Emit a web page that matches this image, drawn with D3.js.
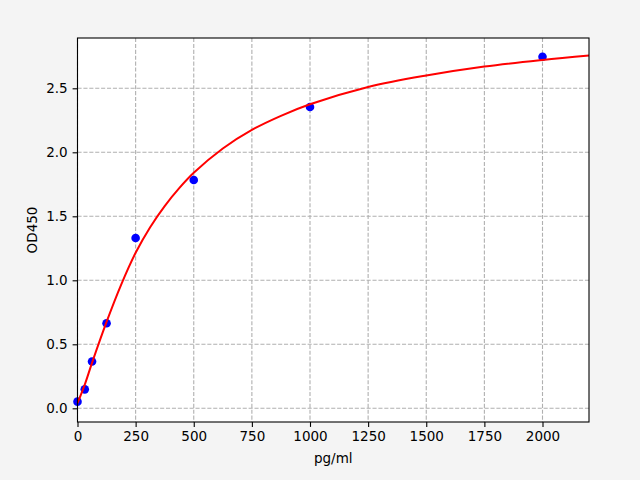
<!DOCTYPE html>
<html>
<head>
<meta charset="utf-8">
<script src="https://cdn.jsdelivr.net/npm/d3@7"></script>
<style>
  body { margin: 0; background: #f4f4f4; }
  svg { display: block; font-family: "DejaVu Sans", sans-serif; }
</style>
</head>
<body>
<svg id="chart" width="640" height="480"></svg>
<script>
// standard points (concentration, OD)
const concentrations = [0, 31.25, 62.5, 125, 250, 500, 1000, 2000]
const odValues = [0.052, 0.148, 0.366, 0.664, 1.33, 1.784, 2.354, 2.747]

// fitted curve
const curveX = [0, 31.25, 62.5, 125, 187.5, 250, 312.5, 375, 437.5, 500, 625, 750, 875, 1000, 1250, 1500, 1750, 2000, 2200]
const curveY = [0.04, 0.185, 0.355, 0.675, 0.965, 1.215, 1.415, 1.58, 1.72, 1.84, 2.03, 2.175, 2.285, 2.375, 2.51, 2.6, 2.67, 2.722, 2.757]

const xTicks = [0, 250, 500, 750, 1000, 1250, 1500, 1750, 2000]
const yTicks = [0, 0.5, 1.0, 1.5, 2.0, 2.5]

const margin = { top: 38, right: 51, bottom: 58, left: 77.5 }
const width = 640 - margin.left - margin.right
const height = 480 - margin.top - margin.bottom

const svg = d3.select('#chart')
const g = svg.append('g').attr('transform', `translate(${margin.left},${margin.top})`)

const x = d3.scaleLinear().domain([0, 2200]).range([0, width])
const y = d3.scaleLinear().domain([-0.107, 2.893]).range([height, 0])

g.append('rect').attr('width', width).attr('height', height).attr('fill', '#fff')

// grid
g.selectAll('.vgrid')
    .data(xTicks)
    .enter()
    .append('line')
    .attr('x1', d => x(d))
    .attr('x2', d => x(d))
    .attr('y1', 0)
    .attr('y2', height)
    .attr('stroke', '#b0b0b0')
    .attr('stroke-width', 1.1)
    .attr('stroke-dasharray', '4.1,1.8')
g.selectAll('.hgrid')
    .data(yTicks)
    .enter()
    .append('line')
    .attr('x1', 0)
    .attr('x2', width)
    .attr('y1', d => y(d))
    .attr('y2', d => y(d))
    .attr('stroke', '#b0b0b0')
    .attr('stroke-width', 1.1)
    .attr('stroke-dasharray', '4.1,1.8')

// points
g.selectAll('circle')
    .data(concentrations)
    .enter()
    .append('circle')
    .attr('cx', d => x(d))
    .attr('cy', (d, i) => y(odValues[i]))
    .attr('r', 4.3)
    .attr('fill', '#0000ff')

// fit line
const line = d3
    .line()
    .x(d => x(d))
    .y((d, i) => y(curveY[i]))
    .curve(d3.curveCatmullRom)
g.append('path')
    .datum(curveX)
    .attr('d', line)
    .attr('fill', 'none')
    .attr('stroke', '#ff0000')
    .attr('stroke-width', 2)

// axes
const xAxis = g
    .append('g')
    .attr('transform', `translate(0,${height})`)
    .call(d3.axisBottom(x).tickValues(xTicks).tickFormat(d3.format('d')).tickSizeOuter(0).tickSize(4.9).tickPadding(4.9))
const yAxis = g
    .append('g')
    .call(d3.axisLeft(y).tickValues(yTicks).tickFormat(d3.format('.1f')).tickSizeOuter(0).tickSize(4.9).tickPadding(4.9))
;[xAxis, yAxis].forEach(a => {
    a.select('.domain').remove()
    a.selectAll('line').attr('stroke', '#000').attr('stroke-width', 1.1)
    a.selectAll('text').attr('font-size', 13.5).attr('fill', '#000').attr('font-family', 'DejaVu Sans')
})

// frame
g.append('rect')
    .attr('width', width)
    .attr('height', height)
    .attr('fill', 'none')
    .attr('stroke', '#000')
    .attr('stroke-width', 1.1)

svg.append('text')
    .attr('x', margin.left + width / 2)
    .attr('y', 463)
    .attr('text-anchor', 'middle')
    .attr('font-size', 13.5)
    .text('pg/ml')
svg.append('text')
    .attr('transform', `translate(37,${margin.top + height / 2}) rotate(-90)`)
    .attr('text-anchor', 'middle')
    .attr('font-size', 13.5)
    .text('OD450')
</script>
</body>
</html>
